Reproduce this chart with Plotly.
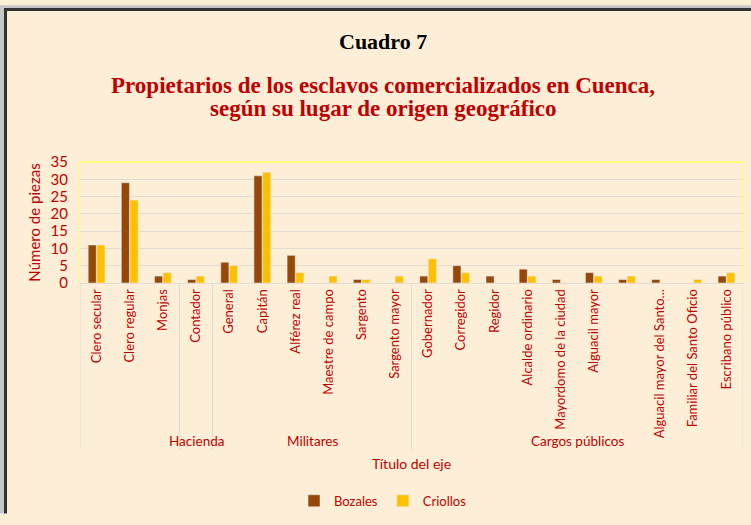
import plotly.graph_objects as go

# data
categorias = ['Clero secular', 'Clero regular', 'Monjas', 'Contador', 'General', 'Capitán',
              'Alférez real', 'Maestre de campo', 'Sargento', 'Sargento mayor', 'Gobernador',
              'Corregidor', 'Regidor', 'Alcalde ordinario', 'Mayordomo de la ciudad',
              'Alguacil mayor', ' ', 'Alguacil mayor del Santo...', 'Familiar del Santo Oficio',
              'Escribano público']
bozales = [11, 29, 2, 1, 6, 31, 8, 0, 1, 0, 2, 5, 2, 4, 1, 3, 1, 1, 0, 2]
criollos = [11, 24, 3, 2, 5, 32, 3, 2, 1, 2, 7, 3, 0, 2, 0, 2, 2, 0, 1, 3]

grupos = ['', 'Hacienda', 'Militares', 'Cargos públicos']
grupo_inicio = [0, 3, 4, 10]
grupo_fin = [2, 3, 9, 19]

titulo_lineas = ['Propietarios de los esclavos comercializados en Cuenca,',
                 'según su lugar de origen geográfico']

CREMA = '#FDEFD7'
ROJO = '#C00000'
GRIS = '#E2DCD2'

W, H = 751, 525
L, R, T, B = 80, 8, 162, 238
pw, ph = W - L - R, H - T - B


def px_x(px):
    """pixel x -> paper x"""
    return (px - L) / pw


def px_y(py):
    """pixel y -> paper y"""
    return (H - B - py) / ph


fig = go.Figure()
fig.add_trace(go.Bar(name='Bozales', x=categorias, y=bozales, marker_color='#984806'))
fig.add_trace(go.Bar(name='Criollos', x=categorias, y=criollos, marker_color='#FFC000'))

shapes = []
# group dividers below the axis
for s, e in zip(grupo_inicio, grupo_fin):
    for xv in (s - 0.5, e + 0.5):
        shapes.append(dict(type='line', xref='x', yref='paper', x0=xv, x1=xv,
                           y0=0, y1=px_y(459), line=dict(color=GRIS, width=1)))
# yellow top of the plot frame
shapes.append(dict(type='line', xref='paper', yref='paper', x0=0, x1=1, y0=1, y1=1,
                   line=dict(color='#FFFF66', width=1.5)))
# outer frame
shapes.append(dict(type='line', xref='paper', yref='paper', x0=px_x(2), x1=px_x(2),
                   y0=px_y(0), y1=px_y(H), line=dict(color='#C8C8C8', width=4)))
shapes.append(dict(type='line', xref='paper', yref='paper', x0=px_x(0), x1=px_x(W),
                   y0=px_y(1.5), y1=px_y(1.5), line=dict(color='#C8C8C8', width=3)))
shapes.append(dict(type='line', xref='paper', yref='paper', x0=px_x(5.5), x1=px_x(5.5),
                   y0=px_y(4.5), y1=px_y(H), line=dict(color='#333333', width=3)))
shapes.append(dict(type='line', xref='paper', yref='paper', x0=px_x(4), x1=px_x(W),
                   y0=px_y(4.5), y1=px_y(4.5), line=dict(color='#333333', width=3)))

annotations = []
for g, s, e in zip(grupos, grupo_inicio, grupo_fin):
    if g:
        annotations.append(dict(text=g, x=(s + e) / 2, xref='x', y=px_y(450), yref='paper',
                                yanchor='middle', showarrow=False,
                                font=dict(size=13.5, color=ROJO)))
annotations.append(dict(text='Título del eje', x=px_x(411), xref='paper', y=px_y(473),
                        yref='paper', yanchor='middle', showarrow=False,
                        font=dict(size=14, color=ROJO)))
annotations.append(dict(text='<b>Cuadro 7</b>', x=px_x(383), xref='paper', y=px_y(37),
                        yref='paper', yanchor='middle', showarrow=False,
                        font=dict(family='Liberation Serif', size=22, color='black')))
for linea, py in zip(titulo_lineas, [83, 107]):
    annotations.append(dict(text='<b>' + linea + '</b>', x=px_x(383), xref='paper', y=px_y(py),
                            yref='paper', yanchor='middle', showarrow=False,
                            font=dict(family='Liberation Serif', size=23, color=ROJO)))

fig.update_layout(
    width=W, height=H,
    margin=dict(l=L, r=R, t=T, b=B),
    paper_bgcolor=CREMA, plot_bgcolor=CREMA,
    font=dict(family='Lato', color=ROJO, size=13),
    barmode='group', bargap=0.48, bargroupgap=0.06,
    showlegend=True,
    legend=dict(orientation='h', x=px_x(383), xanchor='center', y=px_y(512), yanchor='middle',
                font=dict(size=13, color=ROJO), bgcolor='rgba(0,0,0,0)', itemwidth=30),
    xaxis=dict(tickangle=-90, showgrid=False, showline=True, linecolor=GRIS, ticks='',
               tickfont=dict(size=13, color=ROJO), range=[-0.5, 19.5], automargin=False),
    yaxis=dict(range=[0, 35], dtick=5, gridcolor=GRIS, showline=True, linecolor='#FFFF66',
               mirror=True, ticks='', zeroline=False, tickfont=dict(size=15, color=ROJO),
               ticklabelstandoff=8, automargin=False,
               title=dict(text='Número de piezas', font=dict(size=15, color=ROJO), standoff=6)),
    shapes=shapes,
    annotations=annotations,
)

fig.write_html("out.html", config={'displayModeBar': False},
               post_script="document.body.style.margin='0px';")
